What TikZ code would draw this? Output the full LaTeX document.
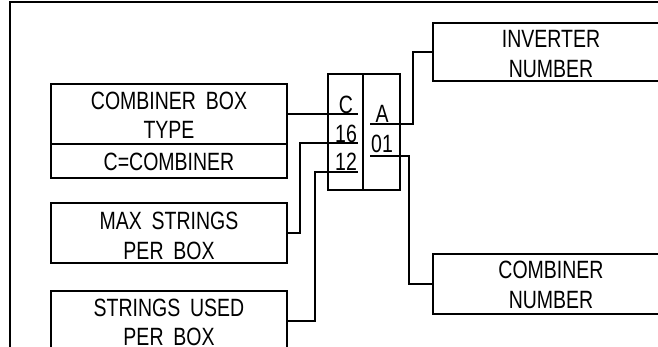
\documentclass[tikz,border=0pt]{standalone}
\usepackage{fontspec}
\setmainfont{Liberation Sans}[FakeStretch=0.78,WordSpace=1.8]
\begin{document}
\begin{tikzpicture}[x=1pt,y=-1pt,
  box/.style={draw, line width=1.4pt, rectangle, inner sep=0pt, outer sep=0pt},
  txt/.style={inner sep=0pt, outer sep=0pt, anchor=base, font=\fontsize{25}{30}\selectfont},
  wire/.style={line width=1.4pt}]
\useasboundingbox (0,0) rectangle (658,346);
\clip (0,0) rectangle (658,346);
\fill[white] (0,0) rectangle (658,346);
% frame
\draw[line width=2pt] (10,400) -- (10,2) -- (700,2);
% left boxes
\node[box, minimum width=236pt, minimum height=60pt] (cbt) at (169,114) {};
\node[box, minimum width=236pt, minimum height=34pt] (cc) at (169,161) {};
\node[box, minimum width=236pt, minimum height=60pt] (ms) at (169,233) {};
\node[box, minimum width=236pt, minimum height=60pt] (su) at (169,321) {};
\node[txt] (t1) at (169,109) {COMBINER BOX};
\node[txt] (t2) at (169,138) {TYPE};
\node[txt] (t3) at (169,170) {C=COMBINER};
\node[txt] (t4) at (169,229) {MAX STRINGS};
\node[txt] (t5) at (169,259) {PER BOX};
\node[txt] (t6) at (169,316) {STRINGS USED};
\node[txt] (t7) at (169,345) {PER BOX};
% central code box
\node[box, minimum width=35pt, minimum height=116pt] (cl) at (345.5,132) {};
\node[box, minimum width=37pt, minimum height=116pt] (cr) at (381.5,132) {};
\node[txt] (tC) at (346,113) {C};
\node[txt] (t16) at (346,142) {16};
\node[txt] (t12) at (346,170) {12};
\node[txt] (tA) at (382,122) {A};
\node[txt] (t01) at (382,152) {01};
% right boxes
\node[box, minimum width=236pt, minimum height=58pt] (inv) at (551,52) {};
\node[box, minimum width=236pt, minimum height=60pt] (cn) at (551,284) {};
\node[txt] (t8) at (551,47) {INVERTER};
\node[txt] (t9) at (551,77) {NUMBER};
\node[txt] (t10) at (551,278) {COMBINER};
\node[txt] (t11) at (551,308) {NUMBER};
% underline ends
\coordinate (uC) at (358,114);
\coordinate (u16) at (358,143);
\coordinate (u12) at (358,172);
\coordinate (uA) at (370,124);
\coordinate (u01) at (370,156);
% connectors
\draw[wire] (cbt.east) -- (uC);
\draw[wire] (ms.east) -| ([xshift=13pt]ms.east |- u16) -- (u16);
\draw[wire] (su.east) -| ([xshift=28pt]su.east |- u12) -- (u12);
\draw[wire] (uA) -- (413,124) |- (inv.west);
\draw[wire] (u01) -- (409,156) |- (cn.west);
\end{tikzpicture}
\end{document}
